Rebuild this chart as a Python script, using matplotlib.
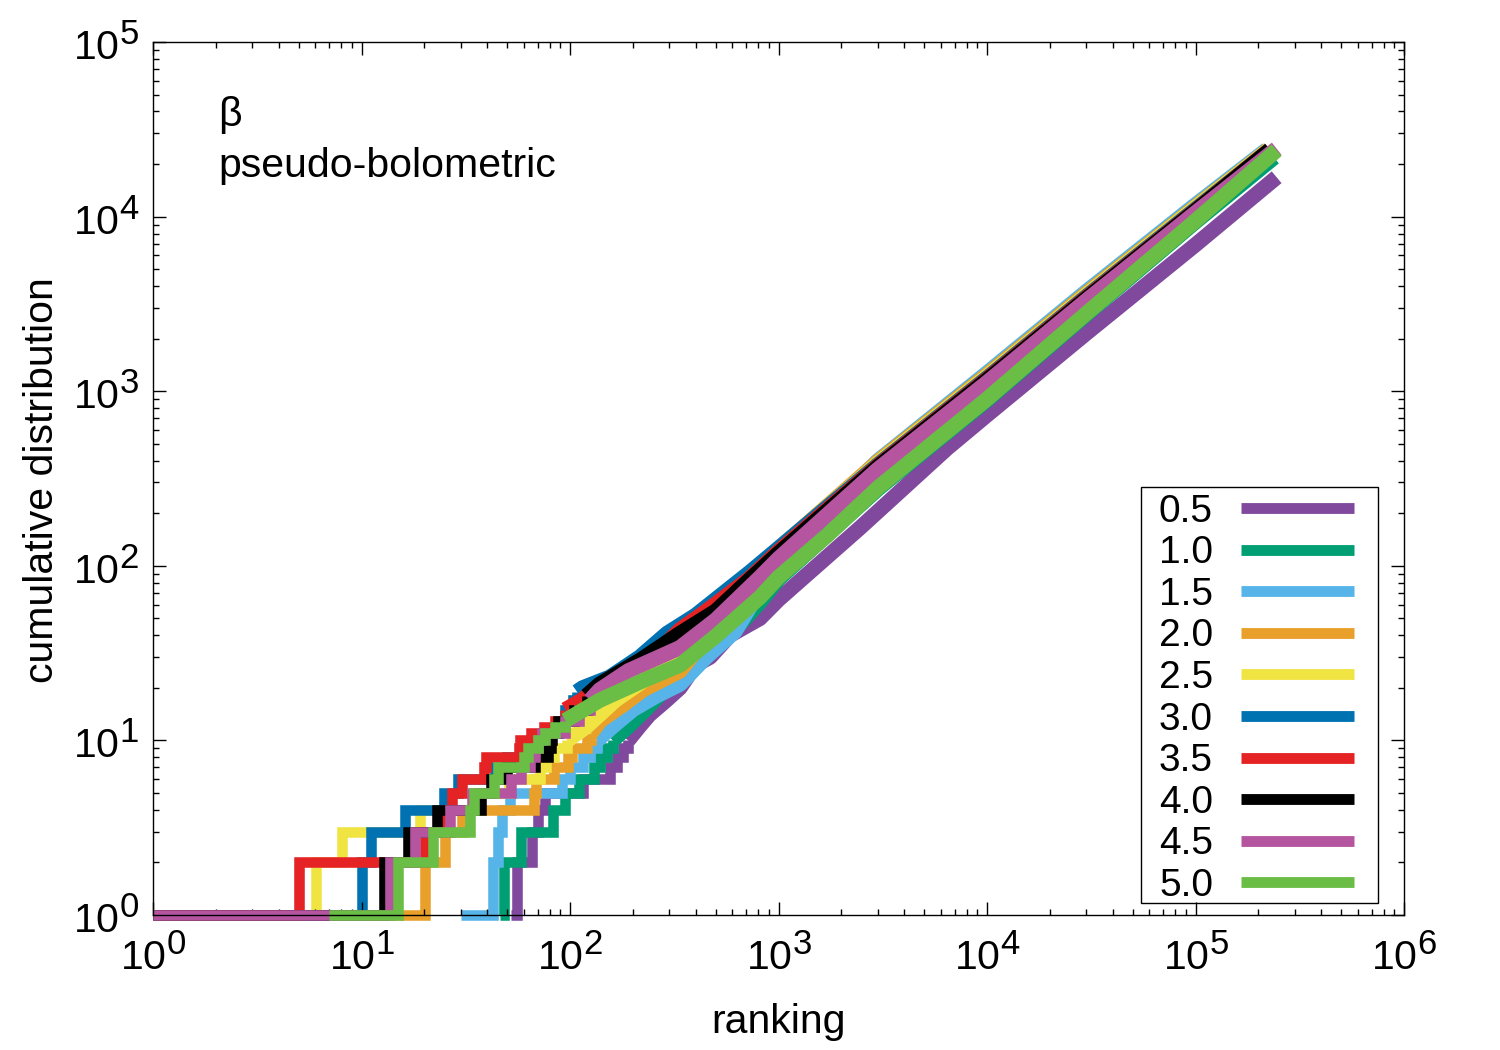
import matplotlib
matplotlib.use('Agg')
import matplotlib.pyplot as plt
from matplotlib.patches import Rectangle
from matplotlib.ticker import LogLocator, NullFormatter

# gnuplot draws exponents larger than mathtext does
try:
    import matplotlib._mathtext as _mt
    _mt.SHRINK_FACTOR = 0.85
except Exception:
    pass

plt.rcParams['font.family'] = ['Liberation Sans', 'DejaVu Sans']
plt.rcParams['mathtext.fontset'] = 'custom'
plt.rcParams['mathtext.rm'] = 'Liberation Sans'
plt.rcParams['mathtext.default'] = 'regular'

# beta values and gnuplot-like colours
betas = ['0.5', '1.0', '1.5', '2.0', '2.5', '3.0', '3.5', '4.0', '4.5', '5.0']
colors = ['#80499E', '#009E73', '#56B4E9', '#E8A02A', '#F0E442',
          '#0072B2', '#E52325', '#000000', '#B5559F', '#6ABD45']

# ranks where the cumulative count steps up (low part of each curve)
step_x = [
    [52, 56, 66, 70, 76, 115, 155, 168, 180, 190],
    [46, 48, 58.5, 83, 95, 110, 130, 140, 150, 160],
    [30, 42.6, 45, 47, 51.5, 92, 100, 115, 125, 135],
    [1, 20.2, 25.2, 30.3, 67, 68.5, 84, 98, 102, 120, 126],
    [1, 6.05, 8.06, 19, 37, 51, 72, 77, 84, 97],
    [1, 10, 11.1, 16.2, 25, 29, 43.6, 50, 58, 70, 80, 88, 95, 103, 108],
    [1, 5, 20.2, 25.2, 27.3, 30.3, 38.5, 39.5, 57, 57.5, 65, 75, 85, 95],
    [1, 12.8, 16.7, 23, 37.6, 42, 50, 68, 78, 81, 82, 88, 105, 120],
    [1, 13.7, 18, 26.5, 34, 52, 58, 64, 68, 70, 73, 95, 110, 125],
    [7, 15, 22, 33, 34.5, 43, 45, 60, 63, 70, 76, 85, 95],
]
step_y = [
    [1, 2, 3, 4, 5, 6, 7, 8, 9, 10],
    [1, 2, 3, 4, 5, 6, 7, 8, 9, 10],
    [1, 2, 3, 4, 5, 6, 7, 8, 9, 10],
    [1, 2, 3, 4, 5, 6, 7, 8, 9, 10, 11],
    [1, 2, 3, 4, 5, 6, 7, 8, 9, 10],
    [1, 2, 3, 4, 5, 6, 7, 8, 9, 10, 11, 13, 15, 17, 19],
    [1, 2, 3, 4, 5, 6, 7, 8, 9, 10, 11, 12, 13, 15],
    [1, 2, 3, 4, 5, 6, 7, 8, 9, 10, 11, 13, 15, 18],
    [1, 2, 3, 4, 5, 6, 7, 8, 9, 10, 11, 13, 15, 17],
    [1, 2, 3, 4, 5, 6, 7, 8, 9, 10, 11, 12, 13],
]

# upper part of each curve
tail_x = [
    [215, 240, 290, 337, 400, 470, 585, 815, 1000, 2460, 6430, 10000, 30000, 100000, 245000],
    [190, 230, 290, 337, 420, 520, 640, 815, 1000, 3000, 10000, 30000, 100000, 238000],
    [160, 200, 260, 337, 450, 618, 1000, 1500, 3000, 10000, 30000, 100000, 220000],
    [140, 180, 224, 337, 500, 720, 1000, 3000, 10000, 30000, 100000, 225000],
    [120, 165, 250, 400, 720, 1000, 3000, 10000, 30000, 100000, 225000],
    [115, 155, 216, 292, 400, 730, 1000, 3000, 10000, 30000, 100000, 227000],
    [114, 135, 256, 337, 450, 720, 1000, 3000, 10000, 30000, 100000, 227000],
    [139, 219, 337, 500, 700, 1000, 3000, 10000, 30000, 100000, 228000],
    [139, 190, 337, 500, 815, 1000, 3000, 10000, 30000, 100000, 245000],
    [139, 224, 337, 500, 815, 1000, 1720, 3000, 10000, 30000, 100000, 245000],
]
tail_y = [
    [12, 14, 17, 20, 27, 30, 40, 50, 64, 165, 470, 730, 2150, 6900, 16800],
    [12, 15, 20, 23, 28, 36, 45, 62, 84, 276, 890, 2755, 9340, 21800],
    [12, 15, 18, 21, 30, 42, 108, 180, 400, 1272, 3729, 11690, 24200],
    [13, 16, 19.5, 25, 45, 86, 125, 395, 1239, 3631, 11385, 24300],
    [12, 17, 24, 40, 84, 123, 387, 1213, 3555, 11235, 24200],
    [20, 23, 30, 41, 52, 92, 126, 380, 1191, 3491, 11020, 24100],
    [17, 20, 31, 43, 55, 84, 121, 375, 1175, 3445, 10870, 24100],
    [21, 29, 41, 55, 80, 118, 370, 1160, 3400, 10800, 24100],
    [19.5, 25, 34, 49, 86, 110, 358, 1122, 3311, 10520, 24500],
    [17, 22, 27, 39.5, 66, 86, 150, 280, 902, 2792, 9460, 24000],
]

W, H = 1500, 1050
fig = plt.figure(figsize=(15, 10.5), dpi=100)
L, R, T, B = 153, 1404, 42, 915
ax = fig.add_axes([L / W, 1 - B / H, (R - L) / W, (B - T) / H])

for i in range(len(betas)):
    sx, sy = step_x[i], step_y[i]
    # staircase corners
    xs, ys = [sx[0]], [sy[0]]
    for k in range(1, len(sx)):
        xs += [sx[k], sx[k]]
        ys += [sy[k - 1], sy[k]]
    z = 1 + i * 0.1
    ax.plot(xs, ys, color=colors[i], lw=7.6, solid_joinstyle='miter',
            solid_capstyle='butt', clip_on=False, zorder=z)
    ax.plot([sx[-1]] + tail_x[i], [sy[-1]] + tail_y[i], color=colors[i], lw=11,
            solid_joinstyle='round', solid_capstyle='butt', clip_on=False, zorder=z)

ax.set_xscale('log')
ax.set_yscale('log')
ax.set_xlim(1, 1e6)
ax.set_ylim(1, 1e5)

ax.set_xticks([10 ** k for k in range(7)])
ax.set_xticklabels([r'$10^{%d}$' % k for k in range(7)])
ax.set_yticks([10 ** k for k in range(6)])
ax.set_yticklabels([r'$10^{%d}$' % k for k in range(6)])
for axis in (ax.xaxis, ax.yaxis):
    axis.set_minor_locator(LogLocator(base=10, subs=range(2, 10), numticks=20))
    axis.set_minor_formatter(NullFormatter())
ax.tick_params(which='both', direction='in', top=True, right=True, width=1, colors='black')
ax.tick_params(which='major', length=9.5, labelsize=29.5)
ax.tick_params(axis='x', which='major', pad=14)
ax.tick_params(axis='y', which='major', pad=10)
ax.tick_params(which='minor', length=4.5)
for s in ax.spines.values():
    s.set_linewidth(1)

ax.set_xlabel('ranking', fontsize=29.5, va='center')
ax.xaxis.set_label_coords(0.5, (B - 1022) / (B - T))
ax.set_ylabel('cumulative distribution', fontsize=29.5, va='center')
ax.yaxis.set_label_coords((42 - L) / (R - L), (B - 480) / (B - T))

def ax_x(px):
    return (px - L) / (R - L)

def ax_y(py):
    return (B - py) / (B - T)

ax.text(ax_x(218), ax_y(126), 'β', fontsize=29.5, va='baseline', transform=ax.transAxes)
ax.text(ax_x(218), ax_y(177), 'pseudo-bolometric', fontsize=29.5, va='baseline',
        transform=ax.transAxes)

# legend box drawn by hand to match the gnuplot key
ax.add_patch(Rectangle((ax_x(1141), ax_y(903)), ax_x(1378) - ax_x(1141), ax_y(487) - ax_y(903),
                       transform=ax.transAxes, fill=False, lw=1, ec='black', zorder=5))
for i, b in enumerate(betas):
    row = 508 + 41.6 * i
    ax.text(ax_x(1213), ax_y(row + 13.5), b, fontsize=28, ha='right', va='baseline',
            transform=ax.transAxes, zorder=6)
    ax.plot([ax_x(1241), ax_x(1354)], [ax_y(row), ax_y(row)], color=colors[i], lw=7.8,
            solid_capstyle='butt', transform=ax.transAxes, zorder=6)

fig.savefig('out.png', dpi=100)
